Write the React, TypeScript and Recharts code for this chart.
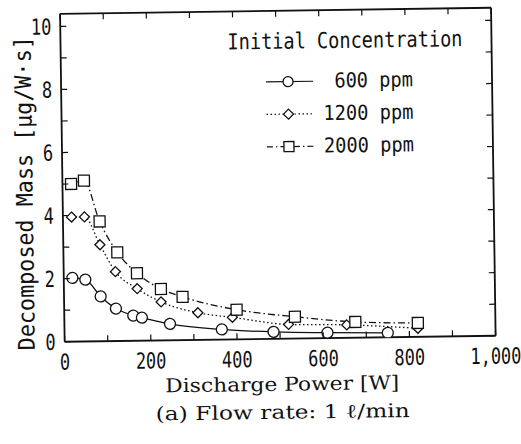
import { LineChart, Line, XAxis, YAxis, Legend } from "recharts";

// values
const power600 = [20, 50, 85, 120, 160, 180, 245, 365, 485, 610, 750];
const mass600 = [2.02, 1.96, 1.42, 1.03, 0.8, 0.73, 0.52, 0.32, 0.22, 0.17, 0.14];
const power1200 = [20, 50, 85, 120, 170, 225, 310, 390, 520, 655, 820];
const mass1200 = [3.95, 3.95, 3.06, 2.2, 1.65, 1.22, 0.86, 0.7, 0.45, 0.41, 0.27];
const power2000 = [20, 50, 85, 125, 170, 225, 275, 400, 535, 675, 820];
const mass2000 = [5.0, 5.1, 3.8, 2.81, 2.14, 1.63, 1.37, 0.94, 0.69, 0.5, 0.44];

const xTicks = [0, 100, 200, 300, 400, 500, 600, 700, 800, 900, 1000];
const xTickLabels = [0, 200, 400, 600, 800, 1000];
const yTicks = [0, 1, 2, 3, 4, 5, 6, 7, 8, 9, 10];
const yTickLabels = [0, 2, 4, 6, 8, 10];
const seriesNames = ["600 ppm", "1200 ppm", "2000 ppm"];

const MONO = '"DejaVu Sans Mono", monospace';
const SERIF = '"DejaVu Serif", serif';
const INK = "#111";

const zip = (xs: number[], ys: number[]) => xs.map((x, i) => ({ power: x, mass: ys[i] }));
const d600 = zip(power600, mass600);
const d1200 = zip(power1200, mass1200);
const d2000 = zip(power2000, mass2000);

function CircleMark({ cx, cy, r = 5.5 }: any) {
  return <circle cx={cx} cy={cy} r={r} fill="#fff" stroke={INK} strokeWidth={1.3} />;
}
function DiamondMark({ cx, cy, s = 5 }: any) {
  return (
    <path
      d={`M${cx},${cy - s}L${cx + s},${cy}L${cx},${cy + s}L${cx - s},${cy}Z`}
      fill="#fff" stroke={INK} strokeWidth={1.3}
    />
  );
}
function SquareMark({ cx, cy, s = 5.5 }: any) {
  return <rect x={cx - s} y={cy - s} width={2 * s} height={2 * s} fill="#fff" stroke={INK} strokeWidth={1.3} />;
}

function BottomTick({ x, y, payload }: any) {
  const v = payload.value;
  return (
    <g>
      <line x1={x} y1={y} x2={x} y2={y - 6} stroke={INK} strokeWidth={1.2} />
      {xTickLabels.includes(v) && (
        <text transform={`translate(${x},${y + 28}) scale(1,1.3)`} textAnchor="middle"
          fontFamily={MONO} fontSize={17} fill={INK}>
          {v.toLocaleString("en-US")}
        </text>
      )}
    </g>
  );
}
function TopTick({ x, y }: any) {
  return <line x1={x} y1={y} x2={x} y2={y + 6} stroke={INK} strokeWidth={1.2} />;
}
function LeftTick({ x, y, payload }: any) {
  const v = payload.value;
  return (
    <g>
      <line x1={x} y1={y} x2={x + 6} y2={y} stroke={INK} strokeWidth={1.2} />
      {yTickLabels.includes(v) && (
        <text transform={`translate(${x - 9},${y + 8}) scale(1,1.3)`} textAnchor="end"
          fontFamily={MONO} fontSize={17} fill={INK}>
          {v}
        </text>
      )}
    </g>
  );
}
function RightTick({ x, y }: any) {
  return <line x1={x} y1={y} x2={x - 6} y2={y} stroke={INK} strokeWidth={1.2} />;
}

function LegendBox() {
  const rows = [
    { dash: undefined, mark: <CircleMark cx={70} cy={62} r={5} /> },
    { dash: "1.5 2.5", mark: <DiamondMark cx={70} cy={94.5} s={5} /> },
    { dash: "6 3 1.5 3", mark: <SquareMark cx={70} cy={127} s={5} /> },
  ];
  return (
    <svg width={260} height={150} style={{ display: "block" }}>
      <text transform="translate(10,29) scale(1,1.18)" fontFamily={MONO} fontSize={18.7}
        textLength={235} lengthAdjust="spacingAndGlyphs" fill={INK}>
        Initial Concentration
      </text>
      {rows.map((r, i) => {
        const cy = 62 + i * 32.5;
        return (
          <g key={seriesNames[i]}>
            <line x1={48} y1={cy} x2={95} y2={cy} stroke={INK} strokeWidth={1.2} strokeDasharray={r.dash} />
            {r.mark}
            <text transform={`translate(195,${cy + 6.5}) scale(1,1.1)`} textAnchor="end"
              fontFamily={MONO} fontSize={18.7} fill={INK}>
              {seriesNames[i]}
            </text>
          </g>
        );
      })}
    </svg>
  );
}

export default function App() {
  return (
    <div style={{ position: "absolute", left: 0, top: 0, width: 521, height: 444, transform: "rotate(-0.8deg)" }}>
      <LineChart width={521} height={444} margin={{ top: 10, right: 26, bottom: 104, left: 62 }}>
        <XAxis xAxisId="bottom" dataKey="power" type="number" domain={[0, 1000]} ticks={xTicks}
          interval={0} height={1} tickSize={0} tickMargin={0} tickLine={false}
          axisLine={{ stroke: INK, strokeWidth: 1.8 }} tick={<BottomTick />} allowDataOverflow />
        <XAxis xAxisId="top" orientation="top" dataKey="power" type="number" domain={[0, 1000]} ticks={xTicks}
          interval={0} height={1} tickSize={0} tickMargin={0} tickLine={false}
          axisLine={{ stroke: INK, strokeWidth: 1.8 }} tick={<TopTick />} allowDataOverflow />
        <YAxis yAxisId="left" type="number" domain={[0, 10.4]} ticks={yTicks}
          interval={0} width={1} tickSize={0} tickMargin={0} tickLine={false}
          axisLine={{ stroke: INK, strokeWidth: 1.8 }} tick={<LeftTick />} allowDataOverflow />
        <YAxis yAxisId="right" orientation="right" type="number" domain={[0, 10.4]} ticks={yTicks}
          interval={0} width={1} tickSize={0} tickMargin={0} tickLine={false}
          axisLine={{ stroke: INK, strokeWidth: 1.8 }} tick={<RightTick />} allowDataOverflow />
        <Legend layout="vertical" align="center" verticalAlign="middle" content={<LegendBox />}
          wrapperStyle={{ left: 220, top: 20, width: 260, height: 150 }} />
        <Line data={d600} dataKey="mass" name={seriesNames[0]} xAxisId="bottom" yAxisId="left"
          type="monotone" stroke={INK} strokeWidth={1.3} activeDot={false} isAnimationActive={false}
          dot={(p: any) => <CircleMark key={p.index} cx={p.cx} cy={p.cy} />} />
        <Line data={d1200} dataKey="mass" name={seriesNames[1]} xAxisId="bottom" yAxisId="left"
          type="monotone" stroke={INK} strokeWidth={1.3} strokeDasharray="1.5 2.5" activeDot={false}
          isAnimationActive={false}
          dot={(p: any) => <DiamondMark key={p.index} cx={p.cx} cy={p.cy} />} />
        <Line data={d2000} dataKey="mass" name={seriesNames[2]} xAxisId="bottom" yAxisId="left"
          type="monotone" stroke={INK} strokeWidth={1.3} strokeDasharray="7 3 1.5 3" activeDot={false}
          isAnimationActive={false}
          dot={(p: any) => <SquareMark key={p.index} cx={p.cx} cy={p.cy} />} />
      </LineChart>
      <svg width={521} height={444} style={{ position: "absolute", left: 0, top: 0, pointerEvents: "none" }}>
        <text transform="translate(33,190) rotate(-90) scale(1,1.15)" textAnchor="middle"
          fontFamily={MONO} fontSize={20} textLength={314} lengthAdjust="spacingAndGlyphs" fill={INK}>
          Decomposed Mass [μg/W·s]
        </text>
        <text x={280} y={391} textAnchor="middle" fontFamily={SERIF} fontSize={19}
          textLength={234} lengthAdjust="spacingAndGlyphs" fill={INK}>
          Discharge Power [W]
        </text>
        <text x={280} y={419} textAnchor="middle" fontFamily={SERIF} fontSize={19}
          textLength={254} lengthAdjust="spacingAndGlyphs" fill={INK}>
          (a) Flow rate: 1 ℓ/min
        </text>
      </svg>
    </div>
  );
}
